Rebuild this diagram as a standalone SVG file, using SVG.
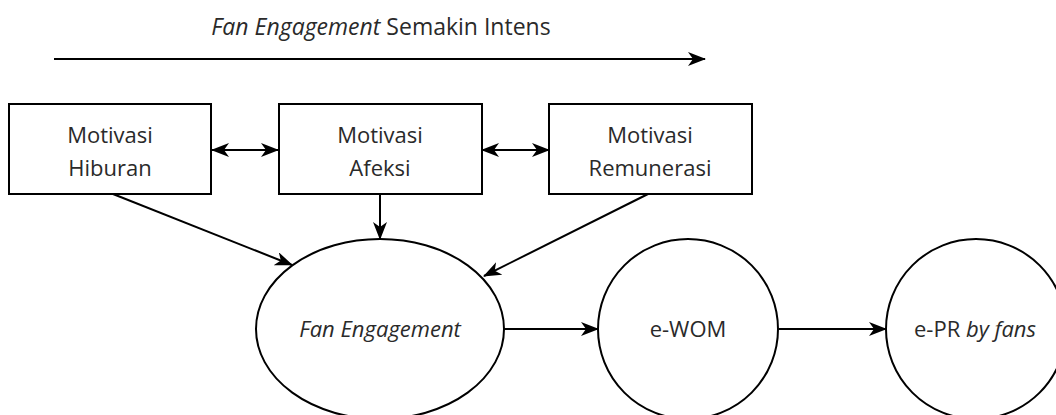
<svg xmlns="http://www.w3.org/2000/svg" width="1056" height="415" viewBox="0 0 1056 415">
<style>
.t{font-family:"Open Sans","Noto Sans",sans-serif;font-size:22px;fill:#2a2a2a;text-anchor:middle}
.h{font-size:23px}
.i{font-style:italic}
.box{fill:#fff;stroke:#000;stroke-width:2}
.ell{fill:#fff;stroke:#000;stroke-width:2}
.c{fill:none;stroke:#000;stroke-width:2}
</style>
<defs>
<marker id="ah" viewBox="0 0 18 14" markerWidth="18" markerHeight="14" refX="17" refY="7" orient="auto-start-reverse" markerUnits="userSpaceOnUse">
<path d="M0,0 L18,7 L0,14 L5,7 z" fill="#000"/>
</marker>
</defs>
<rect width="1056" height="415" fill="#fff"/>
<g id="title">
<text class="t h" x="381" y="35"><tspan class="i">Fan Engagement</tspan> Semakin Intens</text>
</g>
<g id="connectors">
<line class="c" x1="54" y1="59" x2="705" y2="59" marker-end="url(#ah)"/>
<line class="c" x1="212" y1="150" x2="278" y2="150" marker-start="url(#ah)" marker-end="url(#ah)"/>
<line class="c" x1="482" y1="150" x2="549" y2="150" marker-start="url(#ah)" marker-end="url(#ah)"/>
<line class="c" x1="113" y1="194" x2="292" y2="265" marker-end="url(#ah)"/>
<line class="c" x1="380" y1="194" x2="380" y2="239" marker-end="url(#ah)"/>
<line class="c" x1="648" y1="194" x2="484" y2="276" marker-end="url(#ah)"/>
<line class="c" x1="504" y1="329" x2="598" y2="329" marker-end="url(#ah)"/>
<line class="c" x1="779" y1="329" x2="886" y2="329" marker-end="url(#ah)"/>
</g>
<g id="hiburan">
<rect class="box" x="9" y="104" width="202" height="90"/>
<text class="t" x="110" y="143">Motivasi</text>
<text class="t" x="110" y="176">Hiburan</text>
</g>
<g id="afeksi">
<rect class="box" x="279" y="104" width="203" height="90"/>
<text class="t" x="380" y="143">Motivasi</text>
<text class="t" x="380" y="176">Afeksi</text>
</g>
<g id="remunerasi">
<rect class="box" x="549" y="104" width="203" height="90"/>
<text class="t" x="650" y="143">Motivasi</text>
<text class="t" x="650" y="176">Remunerasi</text>
</g>
<g id="fan-engagement">
<ellipse class="ell" cx="380" cy="329" rx="124" ry="90"/>
<text class="t i" x="380" y="337">Fan Engagement</text>
</g>
<g id="ewom">
<ellipse class="ell" cx="688" cy="329" rx="90" ry="90"/>
<text class="t" x="688" y="337">e-WOM</text>
</g>
<g id="epr">
<ellipse class="ell" cx="976" cy="329" rx="90" ry="90"/>
<text class="t" x="975" y="337">e-PR <tspan class="i">by fans</tspan></text>
</g>
</svg>
